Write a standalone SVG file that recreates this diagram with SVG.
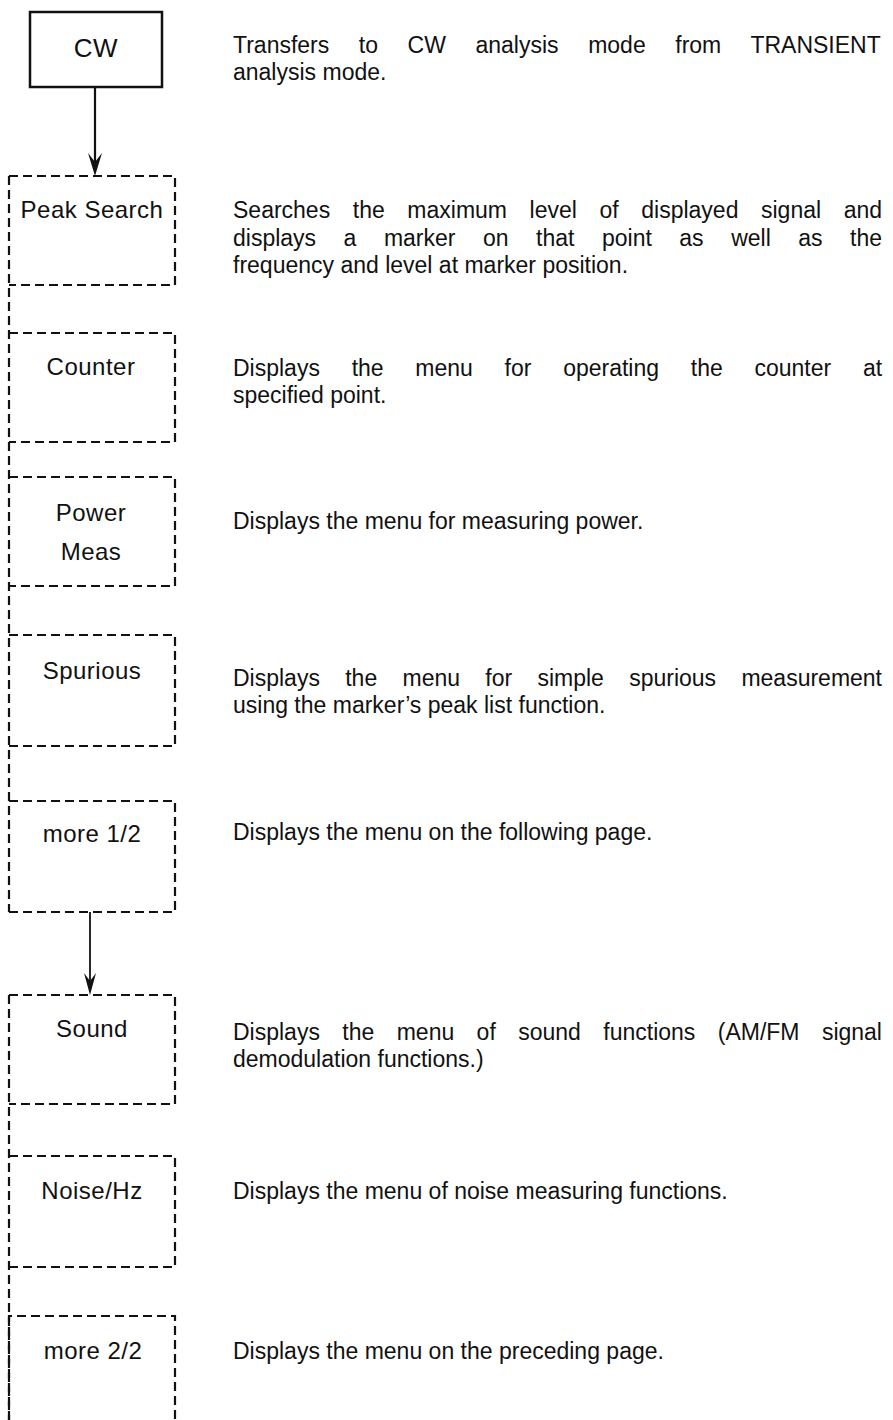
<svg xmlns="http://www.w3.org/2000/svg" width="893" height="1420" viewBox="0 0 893 1420">
<defs>
<style>
.desc{font-family:"Liberation Sans",Arial,sans-serif;font-size:23px;fill:#111}
.lbl{font-family:"Liberation Sans",Arial,sans-serif;font-size:24px;fill:#111;text-anchor:middle;letter-spacing:0.5px}
.box{fill:none;stroke:#111;stroke-width:2.2;stroke-dasharray:9 5}
.solid{fill:#fff;stroke:#111;stroke-width:2.5}
.conn{stroke:#111;stroke-width:2.2;fill:none}
.head{fill:#111;stroke:none}
</style>
</defs>
<rect width="893" height="1420" fill="#fff"/>

<g id="cw">
<rect class="solid" x="30" y="12" width="132" height="75"/>
<text class="lbl" x="96" y="57" style="font-size:26px">CW</text>
</g>

<g id="spine">
<path class="box" d="M9,176 V912"/>
<path class="box" d="M9,995 V1420"/>
</g>

<g id="peak-search">
<path class="box" d="M9,176 H175 V285 H9"/>
<text class="lbl" x="92" y="218">Peak Search</text>
</g>
<g id="counter">
<path class="box" d="M9,333 H175 V442 H9"/>
<text class="lbl" x="91" y="375">Counter</text>
</g>
<g id="power-meas">
<path class="box" d="M9,477 H175 V586 H9"/>
<text class="lbl" x="91" y="521">Power</text>
<text class="lbl" x="91" y="560">Meas</text>
</g>
<g id="spurious">
<path class="box" d="M9,635 H175 V746 H9"/>
<text class="lbl" x="92" y="679">Spurious</text>
</g>
<g id="more-1-2">
<path class="box" d="M9,801 H175 V912 H9"/>
<text class="lbl" x="92" y="842">more 1/2</text>
</g>
<g id="sound">
<path class="box" d="M9,995 H175 V1104 H9"/>
<text class="lbl" x="92" y="1037">Sound</text>
</g>
<g id="noise-hz">
<path class="box" d="M9,1156 H175 V1267 H9"/>
<text class="lbl" x="92" y="1199">Noise/Hz</text>
</g>
<g id="more-2-2">
<path class="box" d="M9,1420 V1316 H175 V1420"/>
<text class="lbl" x="93" y="1359">more 2/2</text>
</g>

<g id="connectors">
<line class="conn" x1="95" y1="87" x2="95" y2="165"/>
<polygon class="head" points="95,176 88,153 95,162 102,153"/>
<line class="conn" x1="90" y1="912" x2="90" y2="985" style="stroke-width:1.8"/>
<polygon class="head" points="90,995 84,973 90,981 96,973"/>
</g>

<g id="descriptions">
<text class="desc" x="233" y="53" word-spacing="23.18">Transfers to CW analysis mode from TRANSIENT</text>
<text class="desc" x="233" y="80">analysis mode.</text>

<text class="desc" x="233" y="218" word-spacing="16.2">Searches the maximum level of displayed signal and</text>
<text class="desc" x="233" y="246" word-spacing="21.12">displays a marker on that point as well as the</text>
<text class="desc" x="233" y="273">frequency and level at marker position.</text>

<text class="desc" x="233" y="376" word-spacing="25.33">Displays the menu for operating the counter at</text>
<text class="desc" x="233" y="403">specified point.</text>

<text class="desc" x="233" y="529">Displays the menu for measuring power.</text>

<text class="desc" x="233" y="686" word-spacing="18.9">Displays the menu for simple spurious measurement</text>
<text class="desc" x="233" y="713">using the marker’s peak list function.</text>

<text class="desc" x="233" y="840">Displays the menu on the following page.</text>

<text class="desc" x="233" y="1040" word-spacing="16.01">Displays the menu of sound functions (AM/FM signal</text>
<text class="desc" x="233" y="1067">demodulation functions.)</text>

<text class="desc" x="233" y="1199">Displays the menu of noise measuring functions.</text>

<text class="desc" x="233" y="1359">Displays the menu on the preceding page.</text>
</g>
</svg>
